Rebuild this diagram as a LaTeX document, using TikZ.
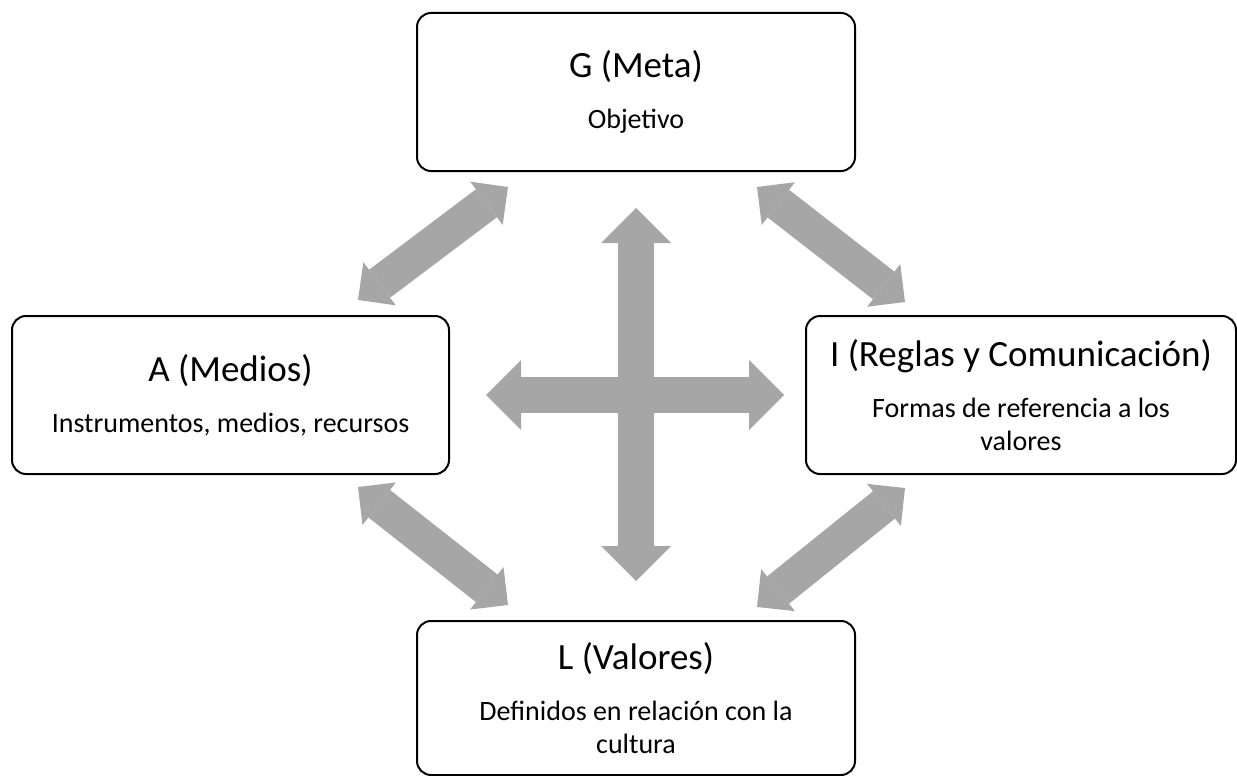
\documentclass[tikz,border=0pt]{standalone}
\usepackage{fontspec}
\setmainfont{Carlito}
\usetikzlibrary{arrows.meta}
\definecolor{arrowgray}{HTML}{A6A6A6}
\tikzset{
  agilbox/.style={draw=black, line width=2pt, rounded corners=14pt, fill=white,
    align=center, inner sep=0pt, font=\fontsize{28}{33}\selectfont},
  bigarrow/.style={draw=arrowgray, line width=36pt,
    {Triangle[width=70pt,length=35pt,line width=0pt]}-{Triangle[width=70pt,length=35pt,line width=0pt]}},
  diagarrow/.style={draw=arrowgray, line width=35pt,
    {Triangle[width=54pt,length=27pt,line width=0pt]}-{Triangle[width=54pt,length=27pt,line width=0pt]}}
}
\newcommand{\boxtitle}[1]{{\fontsize{37}{33}\selectfont #1}\\[18pt]}
\begin{document}
\begin{tikzpicture}[x=1pt,y=-1pt]
\useasboundingbox (0,0) rectangle (1237,776);

% Drawing box G
\node [agilbox, minimum width=438pt, minimum height=158pt] (G) at (636,92)
  {\boxtitle{G (Meta)}Objetivo};%

% Drawing box A
\node [agilbox, minimum width=437pt, minimum height=158pt] (A) at (230.5,395)
  {\boxtitle{A (Medios)}Instrumentos, medios, recursos};%

% Drawing box I
\node [agilbox, minimum width=430pt, minimum height=158pt] (I) at (1021,395)
  {\boxtitle{I (Reglas y Comunicación)}Formas de referencia a los\\valores};%

% Drawing box L
\node [agilbox, minimum width=438pt, minimum height=154pt] (L) at (636,698)
  {\boxtitle{L (Valores)}Definidos en relación con la\\cultura};%

% Ends of the diagonal arrows
\coordinate (AG) at (358,300);%
\coordinate (GA) at (508,187);%
\coordinate (GI) at (757,187);%
\coordinate (IG) at (905,302);%
\coordinate (AL) at (358,487);%
\coordinate (LA) at (508,605);%
\coordinate (LI) at (757,607);%
\coordinate (IL) at (905,488);%

% Drawing cross G L and A I
\draw [bigarrow, shorten <=36pt, shorten >=39pt] (G.south) -- (L.north);%
\draw [bigarrow, shorten <=36pt, shorten >=21pt] (A.east) -- (I.west);%

% Drawing arrows G A, G I, A L, I L
\draw [diagarrow] (AG) -- (GA);%
\draw [diagarrow] (GI) -- (IG);%
\draw [diagarrow] (AL) -- (LA);%
\draw [diagarrow] (LI) -- (IL);%
\end{tikzpicture}
\end{document}
